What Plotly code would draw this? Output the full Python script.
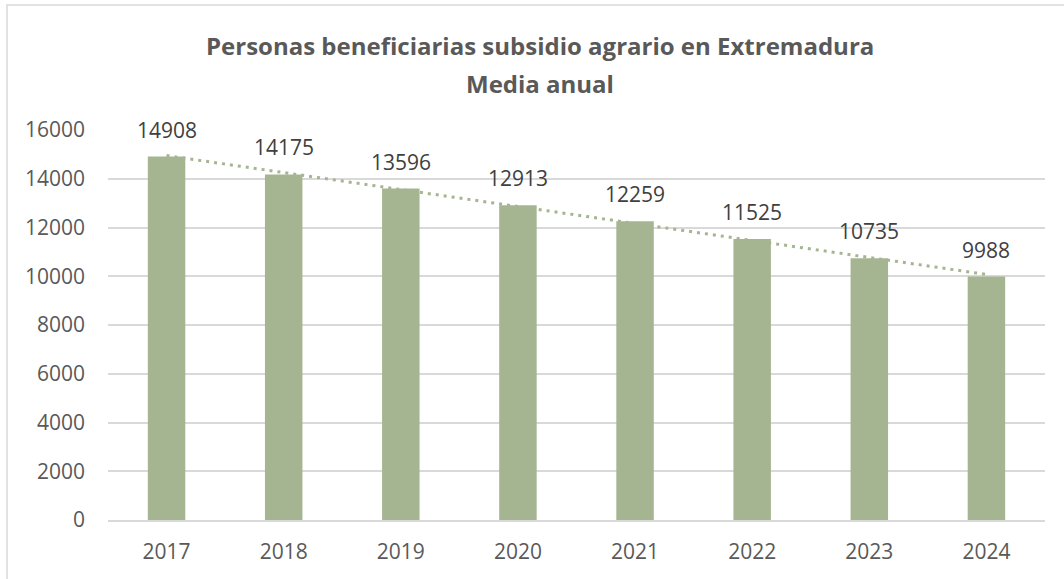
import numpy as np
import plotly.graph_objects as go

years = ['2017', '2018', '2019', '2020', '2021', '2022', '2023', '2024']
beneficiarios = [14908, 14175, 13596, 12913, 12259, 11525, 10735, 9988]
titulo_1 = 'Personas beneficiarias subsidio agrario en Extremadura'
titulo_2 = 'Media anual'

bar_color = '#A6B591'
text_color = '#595959'
grid_color = '#D9D9D9'
font_family = 'Open Sans'

W, H = 1064, 579
ml, mr, mt, mb = 108, 19, 130, 59

# tendencia lineal (como la de Excel)
xs = np.arange(len(beneficiarios))
pend, orig = np.polyfit(xs, beneficiarios, 1)
tendencia = pend * xs + orig

fig = go.Figure()
fig.add_trace(go.Bar(x=years, y=beneficiarios, marker_color=bar_color,
                     marker_line_width=0, width=0.32, hoverinfo='x+y'))
fig.add_trace(go.Scatter(x=years, y=tendencia, mode='lines',
                         line=dict(color=bar_color, width=3, dash='3px,5px'),
                         hoverinfo='skip'))

# etiquetas de datos (en eje de categorías se usa el índice)
for i, v in enumerate(beneficiarios):
    fig.add_annotation(x=i, y=v, text=str(v), showarrow=False, yshift=27,
                       font=dict(family=font_family, size=21, color='#404040'))

pw, ph = W - ml - mr, H - mt - mb

# titulo en dos líneas
for txt, ypx in [(titulo_1, 45), (titulo_2, 83)]:
    fig.add_annotation(text='<b>' + txt + '</b>', xref='paper', yref='paper',
                       x=(W / 2 + 8 - ml) / pw, y=(H - mb - ypx) / ph,
                       xanchor='center', yanchor='middle', showarrow=False,
                       font=dict(family=font_family, size=24, color=text_color))

# borde del área del gráfico (recortado a la derecha y abajo)
fig.add_shape(type='rect', xref='paper', yref='paper',
              x0=(7 - ml) / pw, x1=(W + 20 - ml) / pw,
              y0=-(mb + 20) / ph, y1=(H - mb - 5) / ph,
              line=dict(color=grid_color, width=1.5), layer='below')

fig.update_layout(
    width=W, height=H,
    margin=dict(l=ml, r=mr, t=mt, b=mb),
    paper_bgcolor='white', plot_bgcolor='white',
    showlegend=False,
    bargap=0.68,
    font=dict(family=font_family, color=text_color, size=21),
)
fig.update_xaxes(type='category', range=[-0.5, len(years) - 0.5], showgrid=False,
                 showline=True, linecolor=grid_color, linewidth=1.5, ticks='',
                 tickfont=dict(size=21, color=text_color), ticklabelstandoff=12)
fig.update_yaxes(range=[0, 16000], dtick=2000, showgrid=True, gridcolor=grid_color,
                 gridwidth=1.5, zeroline=False, showline=False,
                 tickfont=dict(size=21, color=text_color), ticklabelstandoff=22,
                 tickformat='d')

fig.write_html('out.html', config={'displayModeBar': False},
               post_script="document.body.style.margin='0';")
